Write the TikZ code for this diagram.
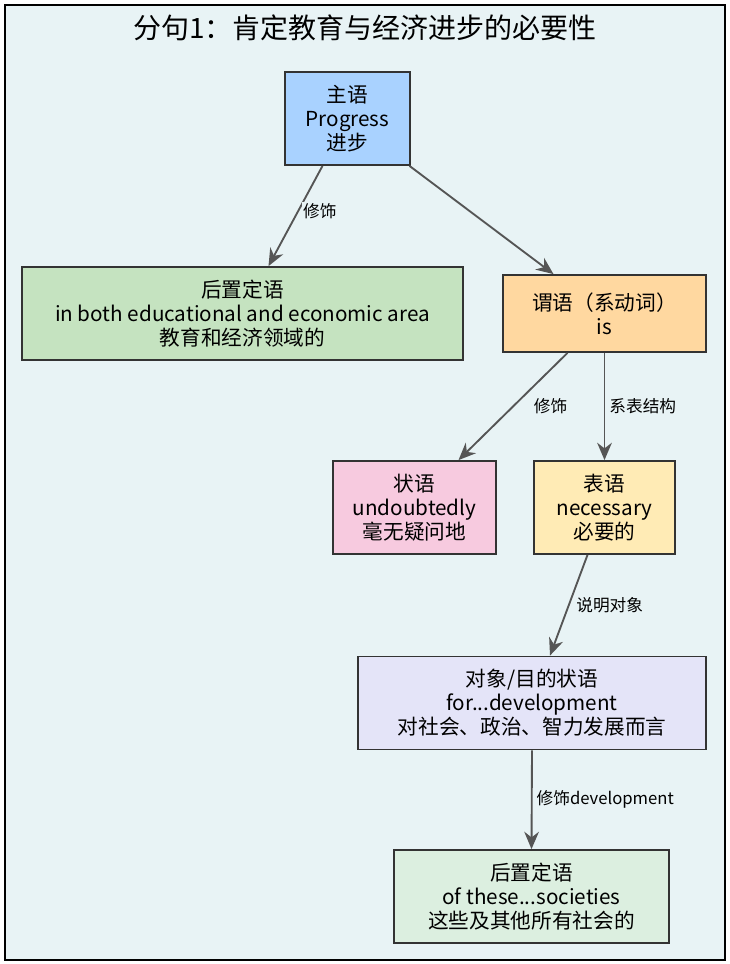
\documentclass[tikz,border=0pt]{standalone}
\usepackage{fontspec}
\setmainfont{Noto Sans CJK SC}
\usetikzlibrary{arrows.meta,calc}
\definecolor{bgc}{HTML}{E8F3F5}
\definecolor{cs}{HTML}{A9D2FF}
\definecolor{ca}{HTML}{C5E3C0}
\definecolor{cp}{HTML}{FFD8A0}
\definecolor{cadv}{HTML}{F7CADF}
\definecolor{cpr}{HTML}{FFEBB5}
\definecolor{co}{HTML}{E4E4F8}
\definecolor{cb}{HTML}{DCEFE0}
\definecolor{ec}{HTML}{555555}
\tikzset{box/.style={draw=black!80,line width=1.1pt,align=center,font=\fontsize{15.5}{18}\selectfont,inner sep=0pt},
 edge/.style={draw=ec,line width=1.4pt,-{Stealth[length=13pt,width=11pt]}},
 lab/.style={font=\fontsize{12.5}{14}\selectfont,fill=bgc,inner sep=1pt}}
\begin{document}
\begin{tikzpicture}[x=0.75pt,y=-0.75pt]
\useasboundingbox (0,0) rectangle (730,964);
\draw[fill=bgc,line width=1.5pt] (5,5) rectangle (725,960);
\node[font=\fontsize{21}{24}\selectfont] (t) at (365,28) {分句1：肯定教育与经济进步的必要性};
\node[box,fill=cs,minimum width=94pt,minimum height=70pt] (s) at (347.5,118.5) {主语\\Progress\\进步};
\node[box,fill=ca,minimum width=331pt,minimum height=70pt] (a1) at (242.5,313.5) {后置定语\\in both educational and economic area\\教育和经济领域的};
\node[box,fill=cp,minimum width=152pt,minimum height=58pt] (p) at (604.5,313.5) {谓语（系动词）\\is};
\node[box,fill=cadv,minimum width=122pt,minimum height=70pt] (adv) at (414.5,507.5) {状语\\undoubtedly\\毫无疑问地};
\node[box,fill=cpr,minimum width=106pt,minimum height=70pt] (pr) at (604.5,507.5) {表语\\necessary\\必要的};
\node[box,fill=co,minimum width=261pt,minimum height=70pt] (o) at (532,703) {对象/目的状语\\for...development\\对社会、政治、智力发展而言};
\node[box,fill=cb,minimum width=206pt,minimum height=70pt] (b) at (531.5,896.5) {后置定语\\of these...societies\\这些及其他所有社会的};
\draw[edge] ($(s.south)+(-25,0)$) -- node[lab,pos=0.45,right=2pt]{修饰} ($(a1.north)+(26,0)$);
\draw[edge] ($(s.south)+(62,0)$) -- ($(p.north)+(-51,0)$);
\draw[edge] ($(p.south)+(-37,0)$) -- node[lab,pos=0.5,right=14pt]{修饰} ($(adv.north)+(44,0)$);
\draw[edge] (p.south) -- node[lab,pos=0.5,right=2pt]{系表结构} (pr.north);
\draw[edge] ($(pr.south)+(-17,0)$) -- node[lab,pos=0.5,right=4pt]{说明对象} ($(o.north)+(18,0)$);
\draw[edge] (o.south) -- node[lab,pos=0.5,right=2pt]{修饰development} (b.north);
\end{tikzpicture}
\end{document}
